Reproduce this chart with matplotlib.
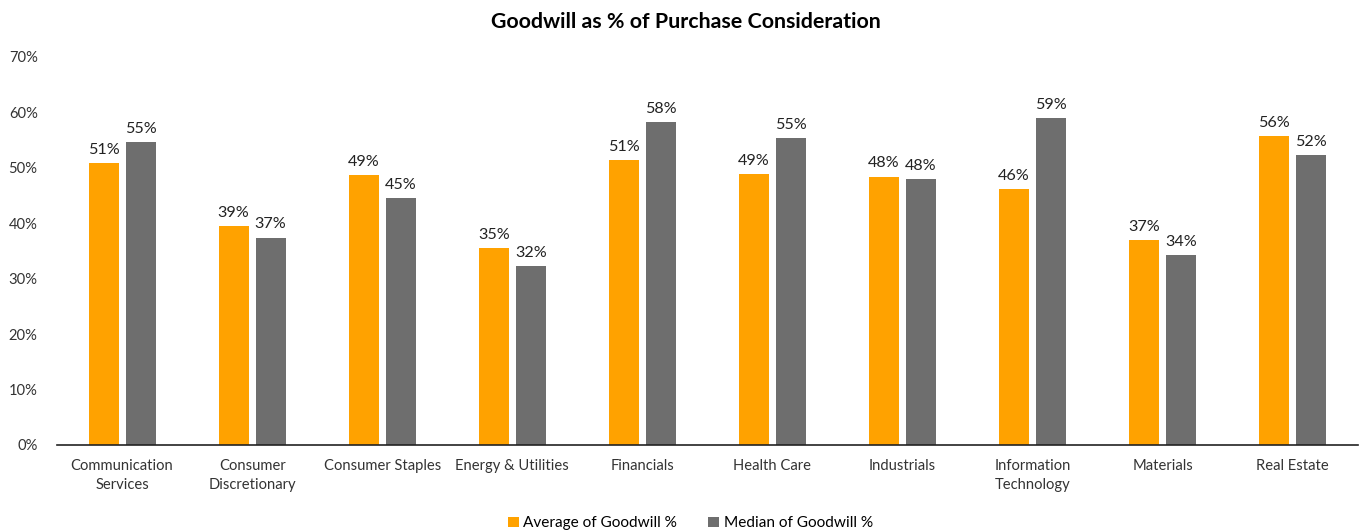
import matplotlib.pyplot as plt
import numpy as np
from matplotlib.ticker import FuncFormatter

plt.rcParams['font.family'] = ['Lato', 'DejaVu Sans']

categories = ["Communication\nServices", "Consumer\nDiscretionary", "Consumer Staples",
              "Energy & Utilities", "Financials", "Health Care", "Industrials",
              "Information\nTechnology", "Materials", "Real Estate"]
average_pct = [50.9, 39.5, 48.7, 35.5, 51.4, 48.9, 48.4, 46.2, 36.9, 55.7]
median_pct = [54.7, 37.4, 44.6, 32.3, 58.3, 55.4, 48.0, 59.0, 34.2, 52.3]
avg_labels = ["51%", "39%", "49%", "35%", "51%", "49%", "48%", "46%", "37%", "56%"]
med_labels = ["55%", "37%", "45%", "32%", "58%", "55%", "48%", "59%", "34%", "52%"]

orange = "#FFA200"
grey = "#6E6E6E"

fig = plt.figure(figsize=(13.59, 5.31), dpi=100)
ax = fig.add_axes([0.042, 0.162, 0.957, 0.731])

x = np.arange(len(categories))
w = 0.23
gap = 0.055
b1 = ax.bar(x - (w + gap) / 2, average_pct, w, color=orange, label="Average of Goodwill %")
b2 = ax.bar(x + (w + gap) / 2, median_pct, w, color=grey, label="Median of Goodwill %")

for bars, labs in ((b1, avg_labels), (b2, med_labels)):
    for r, t in zip(bars, labs):
        ax.text(r.get_x() + r.get_width() / 2, r.get_height() + 1.1, t,
                ha="center", va="bottom", fontsize=11.6, color="#222222")

ax.set_ylim(0, 70)
ax.set_xlim(-0.5, len(categories) - 0.5)
ax.set_yticks(np.arange(0, 71, 10))
ax.yaxis.set_major_formatter(FuncFormatter(lambda v, p: "%d%%" % v))
ax.set_xticks(x)
ax.set_xticklabels(categories, linespacing=1.45)
ax.tick_params(axis="both", length=0, labelsize=10.6, colors="#333333")
ax.tick_params(axis="x", pad=10)
ax.tick_params(axis="y", pad=14)
for s in ("top", "right", "left"):
    ax.spines[s].set_visible(False)
ax.spines["bottom"].set_color("#222222")
ax.spines["bottom"].set_linewidth(1.2)

fig.suptitle("Goodwill as % of Purchase Consideration", fontsize=15.4, fontweight="bold",
             y=0.978, x=0.505)

fig.legend(handles=[b1, b2], loc="lower center", ncol=2, frameon=False, fontsize=11.1,
           bbox_to_anchor=(0.508, -0.025), handlelength=0.7, handleheight=0.7,
           handletextpad=0.3, columnspacing=2.0)

fig.savefig("out.png", dpi=100)
